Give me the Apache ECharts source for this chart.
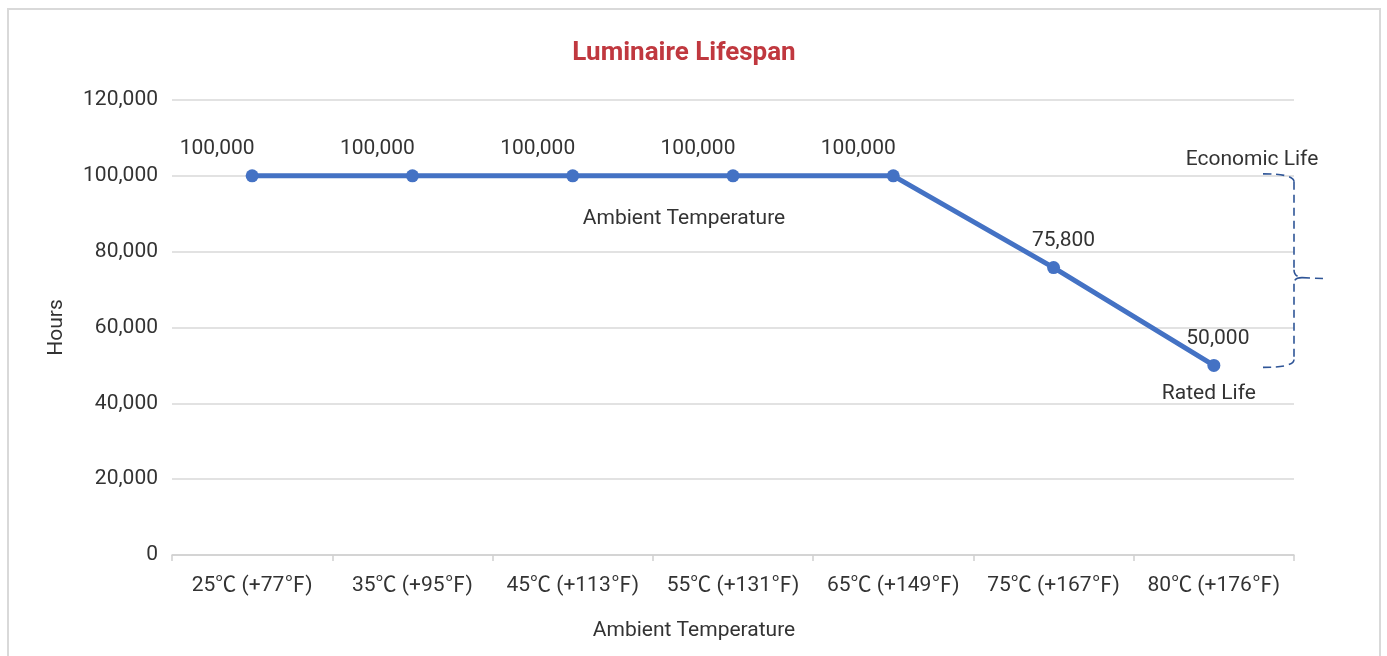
<!DOCTYPE html>
<html>
<head>
<meta charset="utf-8">
<script src="https://cdn.jsdelivr.net/npm/echarts@6/dist/echarts.min.js"></script>
<style>
html,body{margin:0;padding:0;background:#fff;}
#chart{width:1387px;height:656px;}
</style>
</head>
<body>
<div id="chart"></div>
<script>
const categories = ['25℃ (+77℉)', '35℃ (+95℉)', '45℃ (+113℉)', '55℃ (+131℉)', '65℃ (+149℉)', '75℃ (+167℉)', '80℃ (+176℉)'];
const hours = [100000, 100000, 100000, 100000, 100000, 75800, 50000];
const yMin = 0, yMax = 120000, yStep = 20000;
const titleText = 'Luminaire Lifespan';
const xName = 'Ambient Temperature';
const yName = 'Hours';
const economicLife = 100000;
const ratedLife = 50000;

const FONT = 'Roboto, "Noto Sans CJK SC", sans-serif';
const TXT = '#333333';
const FS = 21;
// horizontal nudges of the value labels (style only)
const labelNudge = [-35, -35, -35, -35, -35, 10, 4];
const seriesData = hours.map((v, i) => ({ value: v, label: { offset: [labelNudge[i], 0] } }));

const chart = echarts.init(document.getElementById('chart'));
chart.setOption({
  animation: false,
  backgroundColor: '#fff',
  title: {
    text: titleText, left: 679, textAlign: 'center', top: 35,
    textStyle: { color: '#C0383F', fontSize: 26, fontWeight: 'bold', fontFamily: FONT }
  },
  grid: { left: 172, right: 93, top: 100, bottom: 101 },
  xAxis: {
    type: 'category', data: categories, boundaryGap: true,
    name: xName, nameLocation: 'middle', nameGap: 65,
    nameTextStyle: { color: TXT, fontSize: FS, fontFamily: FONT, padding: [0, 78, 0, 0] },
    axisLine: { lineStyle: { color: '#d0d0d0', width: 1.5 } },
    axisTick: { show: true, interval: 0, length: 6, lineStyle: { color: '#d0d0d0', width: 1.5 } },
    axisLabel: { interval: 0, color: TXT, fontSize: FS, fontFamily: FONT, margin: 20 }
  },
  yAxis: {
    type: 'value', min: yMin, max: yMax, interval: yStep,
    name: yName, nameLocation: 'middle', nameGap: 105,
    nameTextStyle: { color: TXT, fontSize: FS, fontFamily: FONT },
    axisLine: { show: false }, axisTick: { show: false },
    splitLine: { lineStyle: { color: '#d9d9d9', width: 1.5 } },
    axisLabel: { color: TXT, fontSize: FS, fontFamily: FONT, margin: 14,
      formatter: v => v.toLocaleString('en-US') }
  },
  series: [{
    type: 'line', data: seriesData,
    lineStyle: { color: '#4472C4', width: 5 },
    itemStyle: { color: '#4472C4' },
    symbol: 'circle', symbolSize: 13,
    label: { show: true, position: 'top', distance: 10, color: TXT, fontSize: FS, fontFamily: FONT,
      formatter: p => p.value.toLocaleString('en-US') }
  }]
});

const grid = chart.getModel().getComponent('grid').coordinateSystem.getRect();
const xr = grid.x + grid.width;
const yTop = chart.convertToPixel({ yAxisIndex: 0 }, economicLife);
const yBot = chart.convertToPixel({ yAxisIndex: 0 }, ratedLife);
const xLast = chart.convertToPixel({ xAxisIndex: 0 }, categories[categories.length - 1]);
const xMid = grid.x + grid.width / 2;
const yMid = (yTop + yBot) / 2 + 7;
const xl = xr - 31;
const dash = { fill: 'none', stroke: '#2F5597', lineWidth: 1.6, lineDash: [8, 5] };
const bz = (x1, y1, cx, cy, x2, y2) => ({ type: 'bezierCurve', shape: { x1, y1, x2, y2, cpx1: cx, cpy1: cy }, style: dash });
const ln = (x1, y1, x2, y2) => ({ type: 'line', shape: { x1, y1, x2, y2 }, style: dash });

chart.setOption({
  graphic: [
    { type: 'rect', shape: { x: 8, y: 9, width: 1372, height: 700 }, style: { fill: 'none', stroke: '#d9d9d9', lineWidth: 2 }, z: -1 },
    { type: 'text', x: xMid - 49, y: yTop + 43, style: { text: xName, fill: TXT, fontSize: FS, fontFamily: FONT, align: 'center', verticalAlign: 'middle' } },
    { type: 'text', x: xr - 42, y: yTop - 16, style: { text: 'Economic Life', fill: TXT, fontSize: FS, fontFamily: FONT, align: 'center', verticalAlign: 'middle' } },
    { type: 'text', x: xLast - 5, y: yBot + 28, style: { text: 'Rated Life', fill: TXT, fontSize: FS, fontFamily: FONT, align: 'center', verticalAlign: 'middle' } },
    bz(xl, yTop - 2, xr, yTop - 2, xr, yTop + 6),
    ln(xr, yTop + 6, xr, yMid - 8),
    bz(xr, yMid - 8, xr, yMid - 1, xr + 8, yMid),
    ln(xr + 8, yMid, xr + 31, yMid + 1),
    bz(xr + 8, yMid, xr, yMid, xr, yMid + 6),
    ln(xr, yMid + 6, xr, yBot - 6),
    bz(xr, yBot - 6, xr, yBot + 2, xl, yBot + 2)
  ]
});
</script>
</body>
</html>
